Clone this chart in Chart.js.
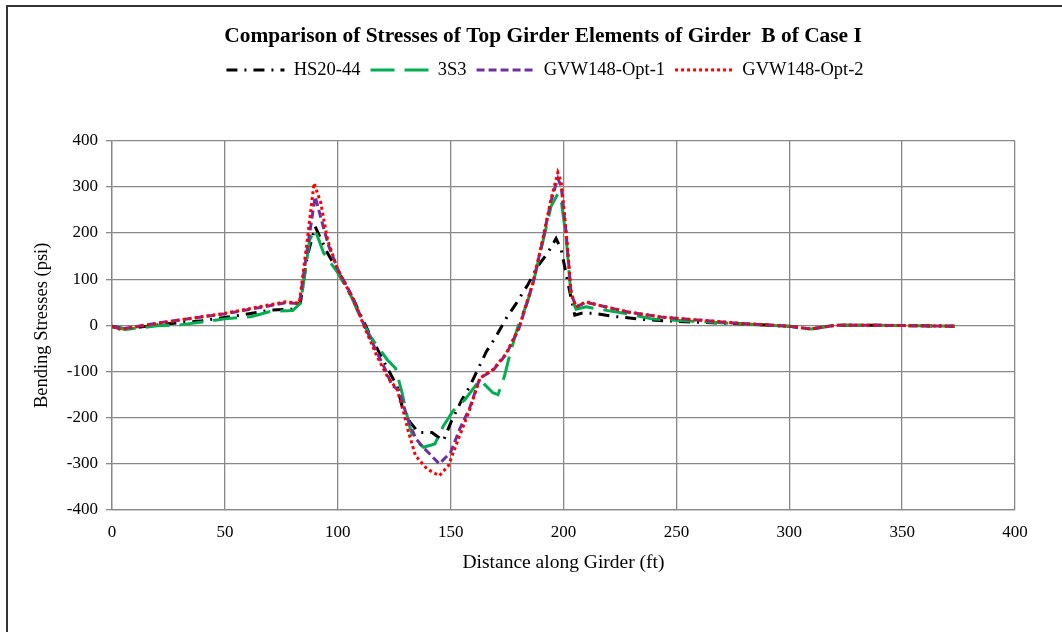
<!DOCTYPE html>
<html>
<head>
<meta charset="utf-8">
<script src="https://cdn.jsdelivr.net/npm/chart.js@4.4.1/dist/chart.umd.min.js"></script>
<style>
  html, body { margin: 0; padding: 0; background: #fff; }
  #wrap { width: 1062px; height: 632px; position: relative; }
</style>
</head>
<body>
<div id="wrap"><canvas id="stressChart"></canvas></div>
<script>
// Bending stresses along girder B (ft, psi)

var hsX = [0, 6, 20, 40, 57, 70, 80, 83.5, 86.5, 90, 95.4, 99.8, 107, 114, 122, 126.3, 128.5, 132, 135.8, 141.7,
           146.8, 150.4, 155, 158.5, 162, 165.8, 170, 174.6, 179, 184.2, 188.6, 193, 196.7, 199, 202, 205, 208, 213.8, 221, 237,
           256.7, 276, 300, 309.7, 320, 340, 360, 373.4];
var hsY = [-2, -8, 1, 10, 22, 33, 35, 50, 150, 214, 157, 120, 55, -18, -93, -132, -175, -210, -232, -232,
           -250, -207, -161, -132, -96, -57, -25, 15, 47, 88, 128, 157, 188, 164, 91, 22, 26, 26, 20, 12,
           7, 4, -2, -8, 0, 0, -1, -2];

var s3X = [0, 6, 20, 30, 40, 50, 62, 70, 80, 83.5, 85.7, 87.6, 90, 93.7, 100, 106, 110.5, 114.6, 122, 125.6,
           128.5, 131.4, 133.6, 138, 143, 146.8, 151, 156.3, 163, 168.7, 171, 173.8, 176, 179.7, 184, 186.4, 190.8, 194.5, 197.5, 199,
           201.2, 203.4, 205.6, 210, 217, 228.5, 239, 257, 276, 300, 309.7, 320, 340, 360, 373.4];
var s3Y = [-3, -9, -1, 1, 7, 14, 19, 30, 32, 48, 120, 186, 207, 157, 114, 62, 12, -25, -75, -93,
           -146, -211, -246, -264, -257, -218, -186, -161, -118, -146, -150, -111, -68, -4, 50, 88, 180, 258, 285, 270,
           190, 60, 35, 40, 34, 25, 14, 9, 4, -2, -8, 0, 0, -1, -2];

var opt1X = [0, 4, 20, 50, 65, 77, 83, 86.5, 90, 93.5, 96, 100, 107, 112, 117, 121, 124, 127, 130.5, 134.5,
             138, 142, 145, 150, 154, 158.5, 163, 168.7, 174.6, 180.4, 184, 186.4, 190.8, 194.5, 197.5, 199, 201.2, 203.4, 205.6, 210,
             217, 228.5, 243, 261, 276, 300, 309.7, 320, 340, 360, 373.4];
var opt1Y = [-2, -8, 5, 25, 38, 49, 47, 165, 279, 215, 172, 122, 57, -3, -55, -95, -130, -140, -195, -245,
             -265, -285, -300, -275, -225, -178, -114, -98, -63, -5, 52, 90, 184, 270, 318, 300, 198, 68, 40, 50,
             42, 29, 18, 11, 5, -2, -8, 0, 0, -1, -2];

var opt2X = [0, 4, 20, 50, 65, 77, 83, 86.5, 89.5, 92.5, 95.5, 100, 107, 112, 117.5, 122, 126.3, 129.2, 131.4, 134.4,
             139.5, 145, 149, 154, 158.5, 163, 168.7, 174.6, 180.4, 184, 186.4, 190.8, 194.5, 197.5, 199, 201.2, 203.4, 205.6, 210, 217,
             228.5, 243, 261, 276, 300, 309.7, 320, 340, 360, 373.4];
var opt2Y = [-3, -9, 4, 26, 40, 51, 48, 185, 308, 265, 185, 120, 55, -6, -68, -111, -139, -189, -232, -282,
             -311, -326, -304, -239, -182, -114, -96, -61, -4, 54, 91, 186, 274, 331, 310, 201, 69, 40, 51, 42,
             29, 18, 11, 5, -2, -8, 0, 0, -1, -2];

var seriesNames = ['HS20-44', '3S3', 'GVW148-Opt-1', 'GVW148-Opt-2'];

var LEGEND_BOX_HEIGHT = 90; // legend + empty band above the plot

function toPoints(xs, ys) {
    return xs.map(function (x, i) { return { x: x, y: ys[i] }; });
}

// outer frame of the Excel chart (only top and left edge are visible)
var framePlugin = {
    id: 'frame',
    beforeDraw: function (chart) {
        var ctx = chart.ctx;
        ctx.save();
        ctx.fillStyle = '#fff';
        ctx.fillRect(0, 0, chart.width, chart.height);
        ctx.strokeStyle = '#333';
        ctx.lineWidth = 2;
        ctx.beginPath();
        ctx.moveTo(7, chart.height);
        ctx.lineTo(7, 6);
        ctx.lineTo(chart.width, 6);
        ctx.stroke();
        ctx.restore();
    }
};

// taller legend box, and title/legend centred on the whole chart like in Excel
var legendSpacer = {
    id: 'legendSpacer',
    beforeLayout: function (chart) {
        var lg = chart.legend;
        if (!lg || lg._spaced) return;
        var fit = lg.fit;
        lg.fit = function () {
            fit.call(this);
            this.height = LEGEND_BOX_HEIGHT;
        };
        lg._spaced = true;
    },
    afterLayout: function (chart) {
        if (chart.titleBlock) { chart.titleBlock.left = 24; chart.titleBlock.right = 1062; }
        if (chart.legend) { chart.legend.left = 28; chart.legend.right = 1062; }
    }
};

var gridColor = '#888888';
var serif = 'Liberation Serif, Times New Roman, serif';

var ctx = document.getElementById('stressChart');
var stressChart = new Chart(ctx, {
    type: 'line',
    data: {
        datasets: [
            { label: seriesNames[0], data: toPoints(hsX, hsY), borderColor: '#000000', backgroundColor: '#000000',
              borderWidth: 3, borderDash: [11, 7, 2, 7], order: 3 },
            { label: seriesNames[1], data: toPoints(s3X, s3Y), borderColor: '#00B050', backgroundColor: '#00B050',
              borderWidth: 3, borderDash: [24, 10], order: 2 },
            { label: seriesNames[2], data: toPoints(opt1X, opt1Y), borderColor: '#7030A0', backgroundColor: '#7030A0',
              borderWidth: 3, borderDash: [8, 4], order: 1 },
            { label: seriesNames[3], data: toPoints(opt2X, opt2Y), borderColor: '#FF0000', backgroundColor: '#FF0000',
              borderWidth: 3, borderDash: [3, 3], order: 0 }
        ]
    },
    options: {
        responsive: true,
        maintainAspectRatio: false,
        animation: false,
        devicePixelRatio: 1,
        elements: {
            point: { radius: 0, hoverRadius: 0 },
            line: { tension: 0, borderCapStyle: 'butt', fill: false }
        },
        layout: { padding: { top: 8, left: 10, right: 47, bottom: 50 } },
        plugins: {
            title: {
                display: true,
                text: 'Comparison of Stresses of Top Girder Elements of Girder  B of Case I',
                color: '#000',
                font: { family: serif, size: 21.4, weight: 'bold', lineHeight: 1.2 },
                padding: { top: 16, bottom: 1 }
            },
            legend: {
                display: true,
                position: 'top',
                labels: {
                    usePointStyle: true,
                    pointStyle: 'line',
                    pointStyleWidth: 58,
                    color: '#000',
                    padding: 10,
                    font: { family: serif, size: 18.5 },
                    sort: function (a, b) { return a.datasetIndex - b.datasetIndex; },
                    generateLabels: function (chart) {
                        var items = Chart.defaults.plugins.legend.labels.generateLabels(chart);
                        items.forEach(function (it) {
                            var ds = chart.data.datasets[it.datasetIndex];
                            it.lineDash = ds.borderDash;
                            it.lineWidth = 3;
                            it.strokeStyle = ds.borderColor;
                        });
                        return items;
                    }
                }
            },
            tooltip: { enabled: false }
        },
        scales: {
            x: {
                type: 'linear',
                min: 0,
                max: 400,
                ticks: { stepSize: 50, color: '#000', padding: 12, font: { family: serif, size: 17 } },
                grid: { color: gridColor, lineWidth: 1.3, drawTicks: false },
                border: { color: gridColor, width: 1.3 },
                title: {
                    display: true,
                    text: 'Distance along Girder (ft)',
                    color: '#000',
                    font: { family: serif, size: 19.5 },
                    padding: { bottom: 7 }
                },
                afterFit: function (scale) { scale.height = 72; }
            },
            y: {
                min: -400,
                max: 400,
                ticks: { stepSize: 100, color: '#000', padding: 8, font: { family: serif, size: 17 } },
                grid: { color: gridColor, lineWidth: 1.3, tickLength: 6 },
                border: { color: gridColor, width: 1.3 },
                title: {
                    display: true,
                    text: 'Bending Stresses (psi)',
                    color: '#000',
                    font: { family: serif, size: 18.5 },
                    padding: { top: 21 }
                },
                afterFit: function (scale) { scale.width = 102; }
            }
        }
    },
    plugins: [framePlugin, legendSpacer]
});
</script>
</body>
</html>
